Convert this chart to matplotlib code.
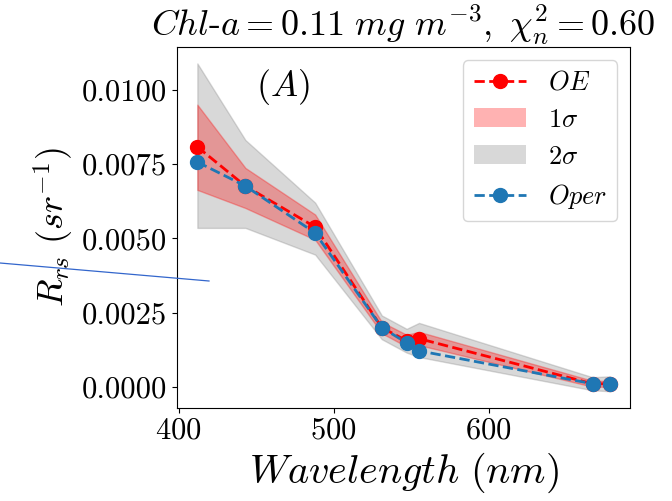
import matplotlib
matplotlib.use("Agg")
import matplotlib.pyplot as plt
from matplotlib.lines import Line2D
from matplotlib.patches import Patch

plt.rcParams['mathtext.fontset'] = 'cm'
plt.rcParams['font.family'] = 'serif'
plt.rcParams['font.serif'] = ['cmr10', 'DejaVu Serif']
plt.rcParams['axes.formatter.use_mathtext'] = True

# wavelengths (nm)
wavelength = [412, 443, 488, 531, 547, 555, 667, 678]

# retrieved Rrs (OE) and operational product (Oper)
rrs_oe = [0.00808, 0.00676, 0.00538, 0.00199, 0.00155, 0.00162, 0.00010, 0.00010]
rrs_oper = [0.00757, 0.00676, 0.00518, 0.00199, 0.00148, 0.00121, 0.00010, 0.00010]

# uncertainty envelopes
sig1_low = [0.00663, 0.00602, 0.00495, 0.00180, 0.00135, 0.00140, 0.00000, 0.00000]
sig1_high = [0.00950, 0.00737, 0.00580, 0.00218, 0.00175, 0.00185, 0.00020, 0.00020]
sig2_low = [0.00535, 0.00535, 0.00445, 0.00160, 0.00115, 0.00100, -0.00012, -0.00015]
sig2_high = [0.01089, 0.00831, 0.00620, 0.00240, 0.00195, 0.00215, 0.00032, 0.00035]

fig = plt.figure(figsize=(6.72, 5.01), dpi=100)
ax = fig.add_axes([0.263, 0.186, 0.675, 0.72])

ax.fill_between(wavelength, sig2_low, sig2_high, color='gray', alpha=0.3, zorder=1)
ax.fill_between(wavelength, sig1_low, sig1_high, color='r', alpha=0.3, zorder=2)
ax.plot(wavelength, rrs_oe, 'r--', marker='o', markersize=10, lw=2, zorder=3)
ax.plot(wavelength, rrs_oper, '--', color='#1f77b4', marker='o', markersize=10, lw=2, zorder=4)

ax.set_xlim(398.7, 691.3)
ax.set_ylim(-0.00071, 0.01144)
ax.set_xticks([400, 500, 600])
ax.set_yticks([0.0, 0.0025, 0.005, 0.0075, 0.01])
ax.set_yticklabels(['0.0000', '0.0025', '0.0050', '0.0075', '0.0100'])
ax.tick_params(labelsize=22)

ax.set_title(r'$Chl$-$a = 0.11\ mg\ m^{-3},\ \chi^2_n = 0.60$', fontsize=26, pad=7)
ax.set_xlabel(r'$Wavelength\ (nm)$', fontsize=29)
ax.set_ylabel(r'$R_{rs}\ (sr^{-1})$', fontsize=26)
ax.text(0.234, 0.945, r'$(A)$', transform=ax.transAxes, fontsize=26,
        ha='center', va='top')

handles = [
    Line2D([], [], color='r', ls='--', marker='o', markersize=10, lw=2),
    Patch(facecolor='r', alpha=0.3),
    Patch(facecolor='gray', alpha=0.3),
    Line2D([], [], color='#1f77b4', ls='--', marker='o', markersize=10, lw=2),
]
ax.legend(handles, [r'$OE$', r'$1\sigma$', r'$2\sigma$', r'$Oper$'],
          loc='upper right', fontsize=19)

# stray annotation line present in the reference image
fig.add_artist(Line2D([0, 209 / 672], [1 - 263 / 501, 1 - 281 / 501],
                      color='#3366cc', lw=0.9, transform=fig.transFigure))

fig.savefig('out.png', dpi=100)
